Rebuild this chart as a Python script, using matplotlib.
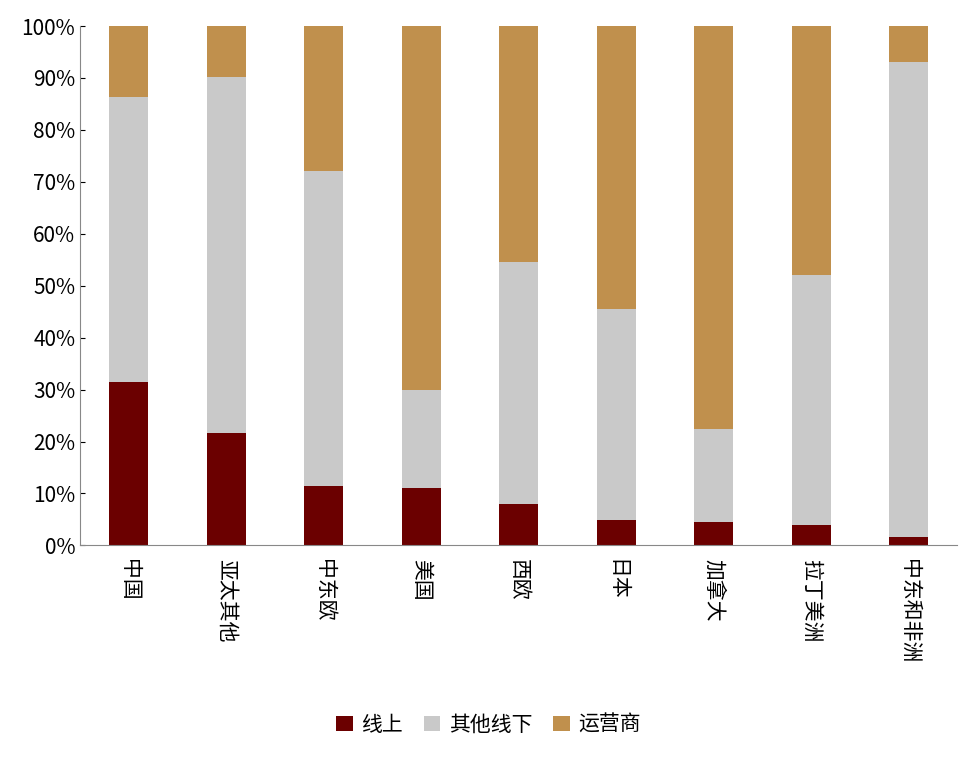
import matplotlib
matplotlib.use("Agg")
from matplotlib import pyplot as plt
from matplotlib.ticker import PercentFormatter

plt.rcParams['font.family'] = ['Noto Sans CJK SC', 'DejaVu Sans']

regions = ["中国", "亚太其他", "中东欧", "美国", "西欧", "日本", "加拿大", "拉丁美洲", "中东和非洲"]
online = [31.4, 21.6, 11.4, 11.0, 7.9, 4.8, 4.6, 4.0, 1.7]
online_plus_offline = [86.3, 90.2, 72.1, 30.0, 54.5, 45.5, 22.5, 52.0, 93.0]
offline = [b - a for a, b in zip(online, online_plus_offline)]
carrier = [100 - b for b in online_plus_offline]

fig = plt.figure(figsize=(9.77, 7.66), dpi=100)
ax = fig.add_axes([0.082, 0.288, 0.898, 0.678])

x = range(len(regions))
w = 0.4
ax.bar(x, online, w, color="#6B0000", label="线上")
ax.bar(x, offline, w, bottom=online, color="#C9C9C9", label="其他线下")
ax.bar(x, carrier, w, bottom=online_plus_offline, color="#C0904D", label="运营商")

ax.set_ylim(0, 100)
ax.set_xlim(-0.5, len(regions) - 0.5)
ax.set_yticks(range(0, 101, 10))
ax.yaxis.set_major_formatter(PercentFormatter(decimals=0))
ax.set_xticks(list(x))
ax.set_xticklabels(regions, rotation=270, fontsize=15)
ax.tick_params(axis="y", labelsize=15)
for s in ["top", "right"]:
    ax.spines[s].set_visible(False)
ax.spines["left"].set_color("#888888")
ax.spines["bottom"].set_color("#888888")
ax.tick_params(axis="x", length=0, pad=10)
ax.tick_params(axis="y", direction="in")

fig.legend(loc="lower center", bbox_to_anchor=(0.5, 0.015), ncol=3, frameon=False,
           fontsize=15, handlelength=0.8, handleheight=0.8, columnspacing=1.0, handletextpad=0.4)

fig.savefig("out.png")
